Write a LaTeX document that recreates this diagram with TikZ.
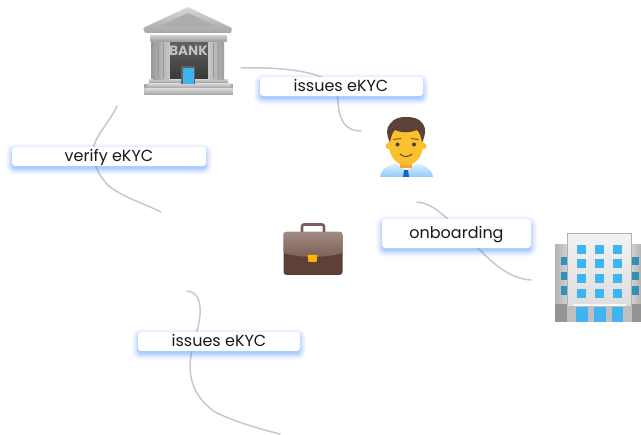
\documentclass[tikz,border=0pt]{standalone}
\usepackage{fontspec}
\setmainfont{Poppins}
\usetikzlibrary{calc}
\definecolor{edgegray}{HTML}{C9C9C9}
\definecolor{glowblue}{HTML}{3D8BFF}
\definecolor{winblue}{HTML}{40B4F0}
\definecolor{winside}{HTML}{3590B8}
\definecolor{hair}{HTML}{5D4037}
\definecolor{skin}{HTML}{FBC02D}
\definecolor{skinb}{HTML}{F5A623}
\definecolor{shirta}{HTML}{E3F2FD}
\definecolor{shirtb}{HTML}{90CAF9}
\definecolor{tie}{HTML}{1565C0}
\definecolor{casea}{HTML}{A08A82}
\definecolor{caseb}{HTML}{7A5F55}
\definecolor{casec}{HTML}{5D4037}
\definecolor{clasp}{HTML}{FFB300}
\tikzset{
  conn/.style={draw=edgegray,line width=1.5pt,line cap=round},
  lbl/.style={fill=white,rounded corners=3pt,inner sep=0pt},
  lbltxt/.style={font=\fontsize{16pt}{18pt}\selectfont,text=black!90,inner sep=0pt,anchor=base},
  px/.style={x=1pt,y=-1pt},
}
\newcommand{\glowbox}[4]{%
  \foreach \g/\o in {6/0.035,5/0.04,4/0.05,3/0.06,2/0.08,1/0.10,0/0.14}{%
    \fill[glowblue,opacity=\o,rounded corners=\g pt+3pt]
      (#1-\g,#2-\g+3) rectangle (#3+\g,#4+\g+3);
  }%
}
\begin{document}
\begin{tikzpicture}[px]
\useasboundingbox (0,0) rectangle (641,435);
\fill[white] (0,0) rectangle (641,435);

% anchor points
\coordinate (a1) at (241,68);
\coordinate (a2) at (361,131);
\coordinate (b1) at (417,202);
\coordinate (b2) at (531,280);
\coordinate (c1) at (117,106);
\coordinate (c2) at (161,212);
\coordinate (d1) at (187,291);
\coordinate (d2) at (280,434);

% connectors
\draw[conn] (a1) .. controls (275,67) and (310,70) .. (328,80) .. controls (336,86) and (338,95) .. (338,102) .. controls (339,120) and (345,131) .. (a2);
\draw[conn] (b1) .. controls (430,203) and (440,212) .. (450,221) .. controls (465,235) and (475,245) .. (485,255) .. controls (500,270) and (515,279) .. (b2);
\draw[conn] (c1) .. controls (110,122) and (95,135) .. (93,150) .. controls (93,165) and (100,178) .. (110,187) .. controls (125,198) and (145,204) .. (c2);
\draw[conn] (d1) .. controls (198,292) and (201,302) .. (200,315) .. controls (199,330) and (191,345) .. (190,365) .. controls (190,385) and (198,400) .. (215,412) .. controls (235,422) and (260,429) .. (d2);

% labels
\glowbox{260}{77}{423}{96}
\node[lbl,minimum width=163pt,minimum height=19pt] (lblA) at (341.5,86.5) {};
\node[lbltxt] (txtA) at (341,92) {issues eKYC};
\glowbox{12}{147}{206}{166}
\node[lbl,minimum width=194pt,minimum height=19pt] (lblB) at (109,156.5) {};
\node[lbltxt] (txtB) at (109,161.7) {verify eKYC};
\glowbox{382}{219}{531}{248}
\node[lbl,minimum width=149pt,minimum height=29pt] (lblC) at (456.5,233.5) {};
\node[lbltxt] (txtC) at (456.5,238.7) {onboarding};
\glowbox{138}{332}{300}{351}
\node[lbl,minimum width=162pt,minimum height=19pt] (lblD) at (219,341.5) {};
\node[lbltxt] (txtD) at (219,347) {issues eKYC};

% bank
\fill[black!40] (151,38) rectangle (222,88);
\shade[top color=black!62,bottom color=black!80] (169,42) rectangle (209,84);
\fill[black!35] (144,84) rectangle (233,95);
\shade[top color=black!22,bottom color=black!45] (149,80) rectangle (228,84);
\shade[top color=black!18,bottom color=black!40] (147,84) rectangle (231,89);
\shade[top color=black!15,bottom color=black!35] (144.5,88.5) rectangle (232.5,94.5);
\shade[left color=black!38,right color=black!22] (153,42) rectangle (169.5,80);
\shade[left color=black!22,right color=black!38] (208.5,42) rectangle (224,80);
\foreach \x in {158,163,213,218}{\draw[black!40,line width=0.5pt] (\x,43) -- (\x,78);}
\shade[top color=black!18,bottom color=black!40,rounded corners=1pt] (150,35) rectangle (227,42);
\shade[top color=black!15,bottom color=black!35,rounded corners=1pt] (188,7) -- (232,28) -- (231,33) -- (145,33) -- (143,28) -- cycle;
\fill[black!32] (188,13) -- (218,27) -- (158,27) -- cycle;
\node[font=\bfseries\fontsize{13.5pt}{14pt}\selectfont,text=black!24,inner sep=0pt] (banktxt) at (188.5,51) {BANK};
\fill[black!62] (181,66) rectangle (195,84);
\fill[winblue] (182.5,68.5) rectangle (194,84);

% person
\shade[top color=shirta,bottom color=shirtb]
  (380,177) .. controls (381,167) and (392,164) .. (398,163) -- (414,163) .. controls (421,164) and (432,167) .. (433,177) -- cycle;
\fill[white] (396,163) -- (406,171) -- (416,163) -- (413,160) -- (399,160) -- cycle;
\fill[tie] (404,170) -- (408,170) -- (409,177) -- (403,177) -- cycle;
\fill[skinb] (400,155) rectangle (412,168);
\fill[skin] (388.5,146) circle (3);
\fill[skin] (423.5,146) circle (3);
\fill[skin] (406,143) ellipse [x radius=17.5,y radius=22.5];
\fill[hair] (390,142) .. controls (386,135) and (386,128) .. (390,124) .. controls (394,118) and (400,117) .. (406,117) .. controls (413,117) and (419,118) .. (423,124) .. controls (426,128) and (426,135) .. (422,142) .. controls (421,137) and (420,133) .. (417,130) .. controls (410,133) and (401,133) .. (395,130) .. controls (392,133) and (391,137) .. (390,142) -- cycle;
\fill[black!75] (397.5,144.5) circle (2);
\fill[black!75] (414,144.5) circle (2);
\draw[hair,line width=1pt] (400,154) .. controls (404,157.5) and (408,157.5) .. (412,154);
\draw[hair,line width=0.8pt] (393.5,139.5) -- (401,138.5);
\draw[hair,line width=0.8pt] (411,138.5) -- (418.5,139.5);

% briefcase
\draw[caseb,line width=2.6pt,rounded corners=2pt] (302,232) -- (302,224.5) -- (324,224.5) -- (324,232);
\fill[casec,rounded corners=3pt] (283.5,232) rectangle (342.5,275);
\shade[top color=casea,bottom color=caseb,rounded corners=2pt] (283.5,232) -- (342.5,232) -- (342.5,253) .. controls (325,258) and (301,258) .. (283.5,253) -- cycle;
\fill[clasp] (307.5,255) -- (317.5,255) -- (316.5,262) -- (308.5,262) -- cycle;

% building
\shade[left color=black!30,right color=black!18] (555,245) rectangle (567,322);
\shade[left color=black!18,right color=black!30] (631,245) rectangle (641,322);
\fill[black!42] (555,304) rectangle (641,322);
\foreach \y/\h in {257/8,272/8,286/9}{
  \fill[winside] (560.5,\y) rectangle (566.7,\y+\h);
  \fill[winside] (632,\y) rectangle (638.5,\y+\h);
}
\shade[top color=black!5,bottom color=black!15] (567,233.5) rectangle (631.5,322);
\draw[black!30,line width=1pt] (567,322) -- (567,233.5) -- (631.5,233.5) -- (631.5,322);
\foreach \y in {245,259.5,274.5,289}{
  \foreach \x in {576.7,595,612.7}{
    \fill[winblue] (\x,\y) rectangle (\x+9,\y+8.7);
  }
}
\fill[black!25] (567,306.5) rectangle (631.5,322);
\fill[black!3] (573,304.5) rectangle (626,306.5);
\foreach \x in {576,594,611.7}{
  \fill[winblue] (\x,307.5) rectangle (\x+11.5,322);
}
\end{tikzpicture}
\end{document}
